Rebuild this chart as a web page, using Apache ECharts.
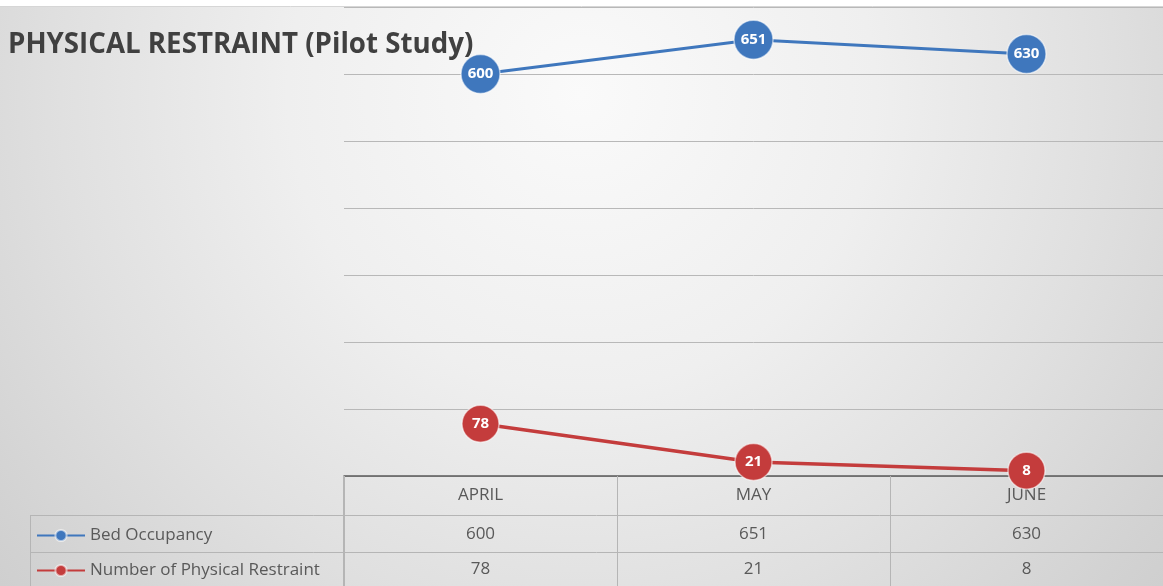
<!DOCTYPE html>
<html>
<head>
<meta charset="utf-8">
<script src="https://cdn.jsdelivr.net/npm/echarts@6/dist/echarts.min.js"></script>
<style>
html,body{margin:0;padding:0;background:#ffffff;}
#c{width:1163px;height:586px;}
</style>
</head>
<body>
<div id="c"></div>
<script>
const titleText = 'PHYSICAL RESTRAINT (Pilot Study)';
const categories = ['APRIL', 'MAY', 'JUNE'];
const seriesNames = ['Bed Occupancy', 'Number of Physical Restraint'];
const bedOccupancy = [600, 651, 630];
const physicalRestraint = [78, 21, 8];
const yTicks = [0, 100, 200, 300, 400, 500, 600, 700];

const FONT = '"Open Sans", "Liberation Sans", sans-serif';
const BLUE = '#3f77bd';
const RED = '#c43c3c';
const TXT = '#595959';
const TBL = '#b5b5b5';

const chart = echarts.init(document.getElementById('c'), null, {renderer: 'canvas'});

const rowAxis = (vals, offset) => ({
  type: 'category',
  data: vals.map(String),
  position: 'bottom',
  offset: offset,
  gridIndex: 0,
  axisLine: {show: false},
  axisTick: {show: false},
  axisLabel: {color: TXT, fontSize: 17, fontFamily: FONT, margin: 9, lineHeight: 20}
});

const legendBase = (name, top) => ({
  orient: 'vertical',
  left: 36, top: top, padding: 0,
  itemWidth: 48, itemHeight: 14, itemGap: 8,
  textStyle: {color: TXT, fontSize: 17, fontFamily: FONT},
  data: [name]
});

chart.setOption({
  backgroundColor: '#ffffff',
  animation: false,
  textStyle: {fontFamily: FONT},
  title: {
    text: titleText,
    left: 3, top: 26,
    textStyle: {fontSize: 27.7, fontWeight: 'bold', color: '#404040', fontFamily: FONT}
  },
  legend: [legendBase(seriesNames[0], 527), legendBase(seriesNames[1], 562)],
  graphic: [
    {type: 'rect', z: -10, silent: true, shape: {x: 0, y: 7, width: 1163, height: 579},
     style: {fill: {type: 'radial', x: 0.5, y: 0.15, r: 1.45,
       colorStops: [{offset: 0, color: '#fafafa'}, {offset: 0.35, color: '#efefef'}, {offset: 0.62, color: '#e0e0e0'}, {offset: 0.85, color: '#d2d2d2'}, {offset: 1, color: '#cacaca'}]}}},
    {type: 'line', z: 5, silent: true, shape: {x1: 0, y1: 6.5, x2: 1163, y2: 6.5}, style: {stroke: '#d6d6d6', lineWidth: 1}},
    {type: 'line', z: 5, silent: true, shape: {x1: 30, y1: 515.5, x2: 1163, y2: 515.5}, style: {stroke: TBL, lineWidth: 1}},
    {type: 'line', z: 5, silent: true, shape: {x1: 30, y1: 552.5, x2: 1163, y2: 552.5}, style: {stroke: TBL, lineWidth: 1}},
    {type: 'line', z: 5, silent: true, shape: {x1: 30.5, y1: 515, x2: 30.5, y2: 586}, style: {stroke: TBL, lineWidth: 1}},
    {type: 'line', z: 5, silent: true, shape: {x1: 343.5, y1: 476, x2: 343.5, y2: 586}, style: {stroke: TBL, lineWidth: 1}}
  ],
  grid: {left: 344, right: -6, top: 7, bottom: 110, containLabel: false},
  xAxis: [
    {
      type: 'category',
      data: categories,
      boundaryGap: true,
      axisLine: {show: true, lineStyle: {color: '#595959', width: 1.5}},
      axisTick: {show: true, alignWithLabel: false, length: 110, lineStyle: {color: TBL, width: 1}},
      axisLabel: {color: TXT, fontSize: 17, fontFamily: FONT, margin: 9, lineHeight: 20}
    },
    rowAxis(bedOccupancy, 39),
    rowAxis(physicalRestraint, 74)
  ],
  yAxis: {
    type: 'value',
    min: yTicks[0], max: yTicks[yTicks.length - 1], interval: yTicks[1] - yTicks[0],
    axisLine: {show: false},
    axisTick: {show: false},
    axisLabel: {show: false},
    splitLine: {show: true, lineStyle: {color: '#b8b8b8', width: 1}}
  },
  series: [
    {
      name: seriesNames[0], type: 'line', data: bedOccupancy,
      xAxisIndex: 0,
      symbol: 'circle', symbolSize: 39,
      lineStyle: {color: BLUE, width: 3},
      itemStyle: {color: BLUE, borderColor: 'rgba(255,255,255,0.55)', borderWidth: 1.5},
      label: {show: true, position: 'inside', color: '#ffffff', fontWeight: 'bold', fontSize: 15, fontFamily: FONT}
    },
    {
      name: seriesNames[1], type: 'line', data: physicalRestraint,
      xAxisIndex: 0,
      symbol: 'circle', symbolSize: 37,
      lineStyle: {color: RED, width: 3.5},
      itemStyle: {color: RED, borderColor: 'rgba(255,255,255,0.55)', borderWidth: 1.5},
      label: {show: true, position: 'inside', color: '#ffffff', fontWeight: 'bold', fontSize: 15, fontFamily: FONT}
    }
  ]
});
</script>
</body>
</html>
